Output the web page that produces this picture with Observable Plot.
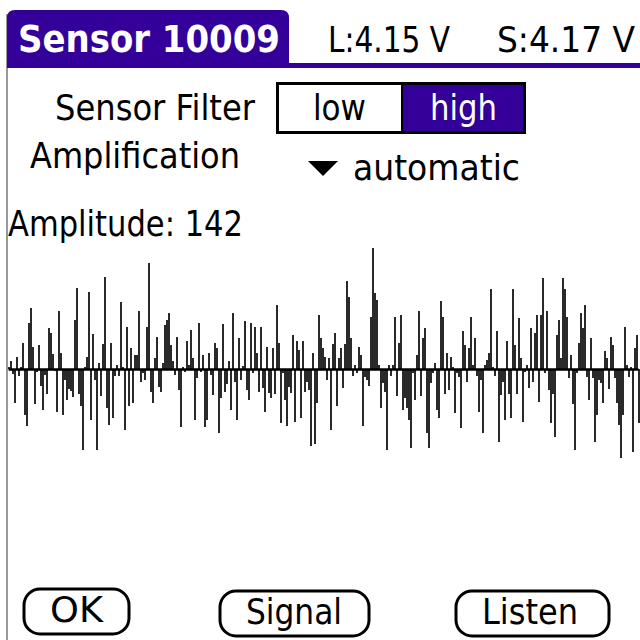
<!DOCTYPE html>
<html>
<head>
<meta charset="utf-8">
<script src="https://cdn.jsdelivr.net/npm/d3@7"></script>
<script src="https://cdn.jsdelivr.net/npm/@observablehq/plot@0.6"></script>
<style>
  html, body { margin: 0; padding: 0; background: #fff; }
  #chart { position: relative; width: 640px; height: 640px; overflow: hidden; }
  #chart svg { display: block; }
</style>
</head>
<body>
<div id="chart"></div>
<script>
// ---- data (signal samples) ----
const segA = [2, 8, -5, -34, 12, -7, 2, 26, -46, -57, 46, 61, 22, -35, -3, 24, -17, -41, -6, -25, 41, 36, 15, -2, -43, 58, 16, -46, -11, -31, -20, -22, -28, 49, 81, -25, -37, -81, 2, 12, 77, -51, 35, -11, -81, 6, -27, 25, 92];
const segB = [-39, -56, 26, -49, -7, 4, -7, 67, 2, -61, 42, -37, 21, -34, 14, 14, 58, -13, -4, -11, 42, 106, -23, -34, 11, 32, -18, -23, 6, 44, 49, 56, 24, 8, -6, 32, -21, -58, 2, -3, 28, 4, 39, 11, -51, -9, 46, -3, 14, -58, -51, 16, -6];
const segC = [-26, 26, 21, -64, -29, 45, -23, -15, 8, -41, 56, -13, -51, 31, -11, 3, 48, -21, -31, 46, -4, 42, 16, -23, 42, -19, -43, 22, -24, -29, 21, -25, 64, 26, -54, -4, -31, -57, -18, -24, 34, -53, 28, 19, -49, 28, -23, -13, -21, -77, 16, -75, -34];
const segD = [54, 31, 21, 12, -11, 11, -61, 25, 36, -37, 11, 21, -19, 25, 88, 72, 31, -7, 4, -4, 22, 14, -57, -8, -11, -17, 52, 121, 76, 69, 4, -39, -14, -23, -81, 4, -7, 4, 52, -27, 26, 54, -41, -29, -39, -51, -79, -4, -31, 14, 58, -27, 31];
const segE = [41, -64, -79, -14, -4, 6, -41, -49, 68, 52, -25, 16, -21, 12, 2, -44, -4, -8, -59, 38, 24, -13, 21, 52, 4, 31, -7, -43, -11, -64, 4, 9, 16, 80, 2, -7, 38, -73, -26, -13, -51, 28, -25, -49, 80, 24, -25, 51, 11, -53, -3, 4, -19];
const segF = [41, -13, 36, 54, -33, 54, 91, -4, 58, -21, -54, -25, -68, 34, 49, 11, 91, 80, 52, -9, 14, -35, -81, -4, 26, 56, 41, 64, -8, -31, 31, -9, -73, -46, -11, -14, -34, 18, 11, -20, 32, 24, -9, -34, -56, -89, -46, 42, 4, -8, 2, -83, 21, 34, -54];

const headerTitle = "Sensor 10009";
const headerL = "L:4.15 V";
const headerS = "S:4.17 V";
const filterLabel = "Sensor Filter";
const filterOptions = ["low", "high"];
const ampLabel = "Amplification";
const ampMode = "automatic";
const amplitudeText = "Amplitude: 142";
const buttons = ["OK", "Signal", "Listen"];

const samples = [...segA, ...segB, ...segC, ...segD, ...segE, ...segF];
const table = samples.map((v, i) => ({i, v}));

const purple = "#330099";

const plot = Plot.plot({
  width: 640,
  height: 640,
  marginLeft: 8.5,
  marginRight: 1.5,
  marginTop: 239,
  marginBottom: 171,
  x: {type: "linear", domain: [0, samples.length - 1], axis: null},
  y: {type: "linear", domain: [-100, 130], axis: null},
  marks: [
    Plot.ruleX(table, {x: "i", y1: 0, y2: "v", stroke: "#2a2a2a", strokeWidth: 2}),
    Plot.ruleY([0], {stroke: "#000", strokeWidth: 2.5})
  ]
});

document.getElementById("chart").appendChild(plot);

// ---- UI chrome drawn over the same SVG ----
const svg = d3.select(plot);
const ui = svg.append("g")
  .attr("font-family", "'DejaVu Sans Condensed', 'DejaVu Sans', sans-serif")
  .attr("text-anchor", "start");

function txt(s, x, y, w, size, opts = {}) {
  return ui.append("text")
    .attr("x", x).attr("y", y)
    .attr("text-anchor", "start")
    .attr("font-size", size)
    .attr("font-weight", opts.bold ? "bold" : "normal")
    .attr("fill", opts.fill || "#000")
    .attr("textLength", w)
    .attr("lengthAdjust", "spacingAndGlyphs")
    .text(s);
}

// frame left edge
ui.append("line").attr("x1", 7).attr("x2", 7).attr("y1", 14).attr("y2", 640)
  .attr("stroke", "#777").attr("stroke-width", 1.5);

// title tab
ui.append("path")
  .attr("d", "M7,68 L7,18 Q7,10 15,10 L281,10 Q289,10 289,18 L289,68 Z")
  .attr("fill", purple);
ui.append("rect").attr("x", 7).attr("y", 63).attr("width", 633).attr("height", 5).attr("fill", purple);

txt(headerTitle, 18, 52, 262, 37, {bold: true, fill: "#fff"});
txt(headerL, 328, 52, 122, 36);
txt(headerS, 497, 52, 138, 36);

// sensor filter
txt(filterLabel, 55, 120, 200, 36);
ui.append("rect").attr("x", 402).attr("y", 83).attr("width", 123).attr("height", 50).attr("fill", purple);
ui.append("rect").attr("x", 277.5).attr("y", 83.5).attr("width", 247).attr("height", 49)
  .attr("fill", "none").attr("stroke", "#000").attr("stroke-width", 3);
ui.append("line").attr("x1", 402).attr("x2", 402).attr("y1", 83).attr("y2", 133)
  .attr("stroke", "#000").attr("stroke-width", 2);
txt(filterOptions[0], 313, 120, 53, 36);
txt(filterOptions[1], 430, 120, 67, 36, {fill: "#fff"});

// amplification
txt(ampLabel, 30, 168, 210, 36);
ui.append("polygon").attr("points", "308,161 338,161 323,176").attr("fill", "#000");
txt(ampMode, 353, 180, 167, 36);

// amplitude
txt(amplitudeText, 8, 236, 235, 36);

// buttons
const btnBoxes = [[24, 589, 105, 45, 50, 53], [220, 591, 149, 45, 246, 96], [456, 591, 153, 45, 482, 96]];
buttons.forEach((b, j) => {
  const [x, y, w, h, tx, tw] = btnBoxes[j];
  ui.append("rect").attr("x", x).attr("y", y).attr("width", w).attr("height", h)
    .attr("rx", 16).attr("ry", 16)
    .attr("fill", "none").attr("stroke", "#000").attr("stroke-width", 3);
  txt(b, tx, y + 33, tw, 36);
});
</script>
</body>
</html>
